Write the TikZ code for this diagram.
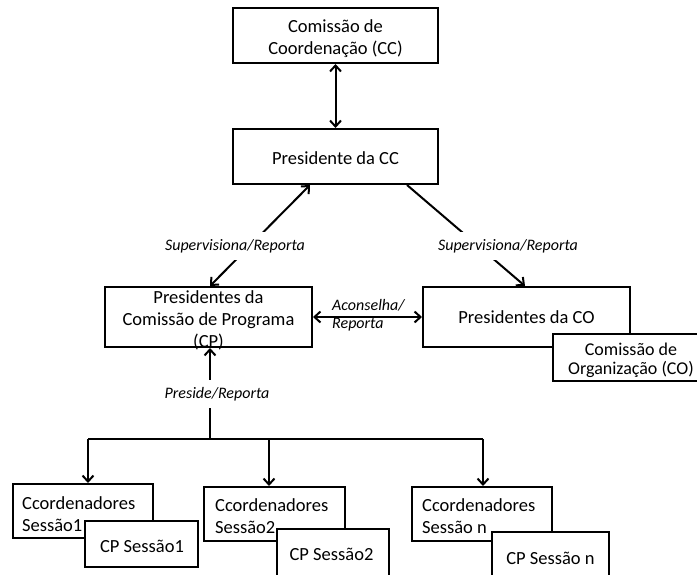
\documentclass[tikz,border=0pt]{standalone}
\usepackage{fontspec}
\setmainfont{Carlito}
\usetikzlibrary{arrows.meta,calc}
\begin{document}
\begin{tikzpicture}[x=1pt,y=-1pt,
 box/.style={draw, line width=2pt, fill=white, inner sep=0pt},
 btext/.style={inner sep=0pt, align=center, font=\fontsize{18.5}{22}\selectfont},
 ltextl/.style={inner sep=0pt, align=flush left, anchor=west, font=\fontsize{18.5}{22}\selectfont},
 lbl/.style={fill=white, inner xsep=2pt, inner ysep=7pt, font=\fontsize{16}{18}\selectfont\itshape},
 conn/.style={line width=2pt},
 tipend/.style={-{Straight Barb[length=6pt,width=11pt]}},
 tipboth/.style={{Straight Barb[length=6pt,width=11pt]}-{Straight Barb[length=6pt,width=11pt]}}
]
\useasboundingbox (0,0) rectangle (697,575);
\clip (0,0) rectangle (697,575);
\fill[white] (0,0) rectangle (697,575);

% top boxes
\node[box, minimum width=205pt, minimum height=55pt] (cc) at (335.5,35.5) {};
\node[btext] (cct) at (335.5,39) {Comissão de\\Coordenação (CC)};
\node[box, minimum width=205pt, minimum height=55pt] (pcc) at (335.5,156.5) {};
\node[btext] (pcct) at (335.5,158.5) {Presidente da CC};

% middle boxes
\node[box, minimum width=207pt, minimum height=60pt] (pcp) at (208.5,317) {};
\node[btext] (pcpt) at (208.5,320.5) {Presidentes da\\Comissão de Programa\\(CP)};
\node[box, minimum width=207pt, minimum height=60pt] (pco) at (526.5,317) {};
\node[btext] (pcot) at (526.5,317) {Presidentes da CO};
\node[box, minimum width=159pt, minimum height=47pt] (org) at (632.5,357.5) {};
\node[btext, font=\fontsize{18}{19}\selectfont] (orgt) at (631,360.5) {Comissão de\\Organização (CO)};

% bottom boxes
\node[box, minimum width=140pt, minimum height=54pt] (c1) at (83,511) {};
\node[ltextl] (c1t) at ([xshift=10pt,yshift=-3pt]c1.west) {Ccordenadores\\Sessão1};
\node[box, minimum width=141pt, minimum height=54pt] (c2) at (274.5,514) {};
\node[ltextl] (c2t) at ([xshift=12pt,yshift=-2.5pt]c2.west) {Ccordenadores\\Sessão2};
\node[box, minimum width=140pt, minimum height=54pt] (c3) at (482,514) {};
\node[ltextl] (c3t) at ([xshift=11pt,yshift=-2.5pt]c3.west) {Ccordenadores\\Sessão n};
\node[box, minimum width=113pt, minimum height=46pt] (s1) at (141.5,544) {};
\node[btext] (s1t) at (142,546) {CP Sessão1};
\node[box, minimum width=112pt, minimum height=52pt] (s2) at (333,555) {};
\node[btext] (s2t) at (331.5,554) {CP Sessão2};
\node[box, minimum width=117pt, minimum height=52pt] (s3) at (550.5,558) {};
\node[btext] (s3t) at (550.5,558) {CP Sessão n};

% connectors
\draw[conn, tipboth] (cc.south) -- (pcc.north);
\draw[conn, tipboth] ([xshift=1.5pt]pcp.north) -- ([xshift=-25.5pt]pcc.south);
\draw[conn, tipend] ([xshift=71.5pt]pcc.south) -- ([xshift=-1.5pt]pco.north);
\draw[conn, tipboth] (pcp.east) -- (pco.west);

\coordinate (bus) at (210,439);
\coordinate (b1) at (88,439);
\coordinate (b2) at (269,439);
\coordinate (b3) at (483,439);
\draw[conn, tipend] (bus) -- ([xshift=1.5pt]pcp.south);
\draw[conn] (b1) -- (b3);
\draw[conn, tipend] (b1) -- (b1 |- c1.north);
\draw[conn, tipend] (b2) -- (b2 |- c2.north);
\draw[conn, tipend] (b3) -- (b3 |- c3.north);

% labels
\node[lbl] (l1) at (235,246) {Supervisiona/Reporta};
\node[lbl] (l2) at (508,246) {Supervisiona/Reporta};
\node[lbl] (l3) at (217,394) {Preside/Reporta};
\node[inner sep=0pt, align=flush left, anchor=west, font=\fontsize{16}{18}\selectfont\itshape] (l4) at (332,315) {Aconselha/\\Reporta};
\end{tikzpicture}
\end{document}
